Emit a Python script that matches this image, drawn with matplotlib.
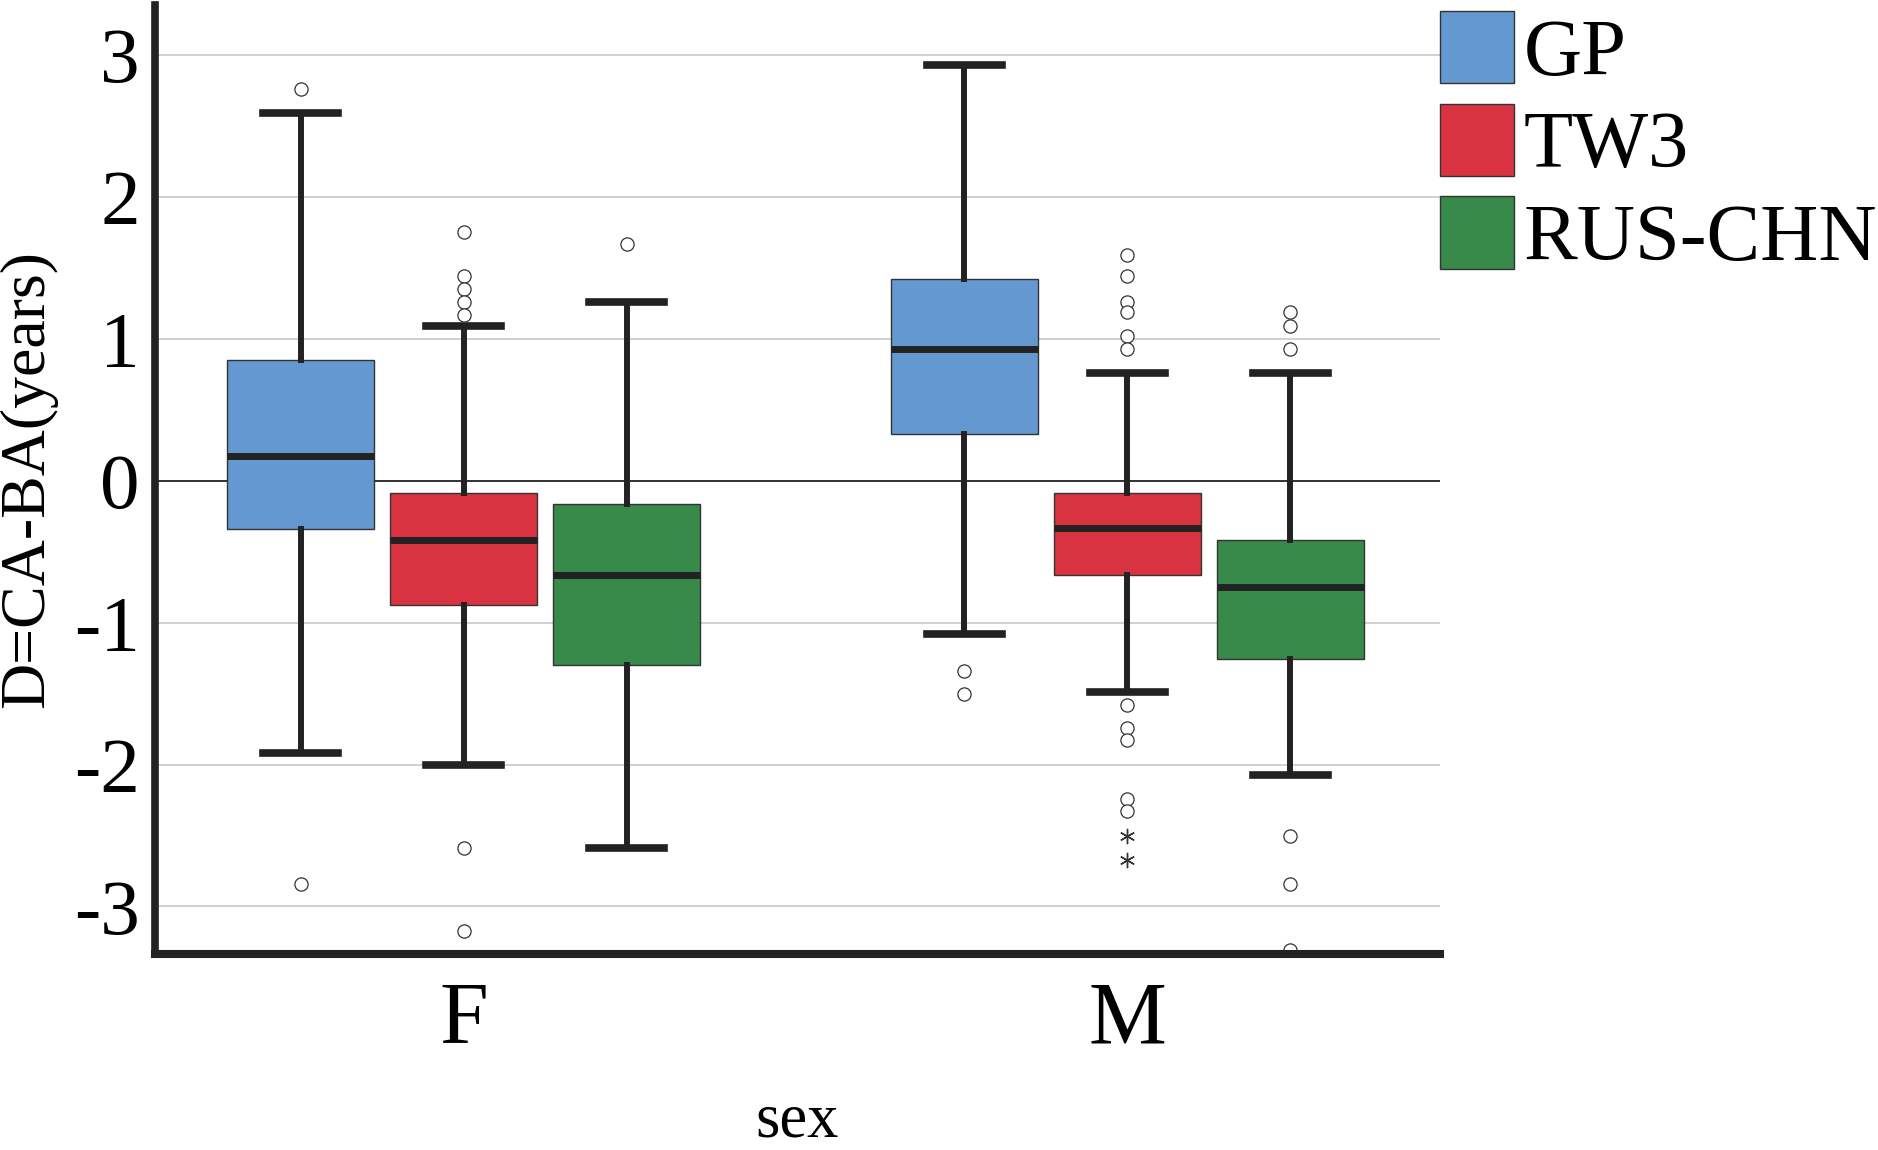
import numpy as np
import matplotlib.pyplot as plt
from matplotlib.patches import Patch

plt.rcParams['font.family'] = ['Liberation Serif', 'DejaVu Serif']

# data (years)
groups = ['F', 'M']
methods = ['GP', 'TW3', 'RUS-CHN']
colors = ['#6498d0', '#d93240', '#378a4a']

whislo = [[-1.92, -2.005, -2.585], [-1.08, -1.488, -2.076]]
q1 = [[-0.34, -0.873, -1.296], [0.326, -0.666, -1.256]]
med = [[0.17, -0.42, -0.666], [0.927, -0.334, -0.748]]
q3 = [[0.85, -0.09, -0.167], [1.418, -0.086, -0.415]]
whishi = [[2.59, 1.09, 1.256], [2.93, 0.757, 0.757]]
fliers = [
    [[2.76, -2.84],
     [1.75, 1.44, 1.35, 1.26, 1.17, -2.585, -3.17],
     [1.67]],
    [[-1.34, -1.50],
     [1.59, 1.44, 1.26, 1.19, 1.02, 0.93, -1.58, -1.74, -1.83, -2.24, -2.33],
     [1.19, 1.09, 0.93, -2.50, -2.84, -3.31]],
]
extremes_M_TW3 = [-2.50, -2.67]

yticks = [-3, -2, -1, 0, 1, 2, 3]
ytick_labels = ['-3', '-2', '-1', '0', '1', '2', '3']

offset = 0.2456
box_w = 0.2215

fig = plt.figure(figsize=(18.78, 11.5), dpi=100)
ax = fig.add_axes([0.0825, 0.1704, 0.6842, 0.8252])

for y in [-3, -2, -1, 1, 2, 3]:
    ax.axhline(y, color='#c4c4c4', lw=1.1, zorder=0)
ax.axhline(0, color='#222222', lw=1.3, zorder=0.5)

for gi in range(len(groups)):
    for mi in range(len(methods)):
        stats = [dict(med=med[gi][mi], q1=q1[gi][mi], q3=q3[gi][mi],
                      whislo=whislo[gi][mi], whishi=whishi[gi][mi],
                      fliers=fliers[gi][mi])]
        pos = gi + (mi - 1) * offset
        ax.bxp(stats, positions=[pos], widths=box_w, capwidths=0.113,
               patch_artist=True, manage_ticks=False,
               boxprops=dict(facecolor=colors[mi], edgecolor='#333333', lw=1.0),
               medianprops=dict(color='#222222', lw=5),
               whiskerprops=dict(color='#222222', lw=4.3),
               capprops=dict(color='#222222', lw=5.5),
               flierprops=dict(marker='o', markersize=9.5, markerfacecolor='white',
                               markeredgecolor='#333333', markeredgewidth=0.9))

ax.plot([1] * len(extremes_M_TW3), extremes_M_TW3, ls='none', marker=(6, 2, 0),
        markersize=11, color='#333333', markeredgewidth=1.0)

ax.set_xlim(-0.4656, 1.4708)
ax.set_ylim(-3.335, 3.35)
ax.set_xticks([0, 1], groups)
ax.set_yticks(yticks, ytick_labels)
ax.tick_params(axis='x', length=0, pad=19, labelsize=63)
ax.tick_params(axis='y', length=0, pad=11, labelsize=57)

for s in ['top', 'right']:
    ax.spines[s].set_visible(False)
ax.spines['left'].set_linewidth(5.5)
ax.spines['bottom'].set_linewidth(5.8)
ax.spines['left'].set_color('#222222')
ax.spines['bottom'].set_color('#222222')
ax.spines['left'].set_zorder(5)
ax.spines['bottom'].set_zorder(5)

ax.set_xlabel('sex', fontsize=45)
ax.xaxis.set_label_coords(0.5, -0.1455)
ax.set_ylabel('D=CA-BA(years)', fontsize=46)
ax.yaxis.set_label_coords(-0.0763, 0.5)

handles = [Patch(facecolor=c, edgecolor='#333333', lw=1.0) for c in colors]
fig.legend(handles, methods, loc='upper left', bbox_to_anchor=(1440 / 1878, 1 - 11 / 1150),
           frameon=False, fontsize=58, handlelength=0.92, handleheight=1.0,
           handletextpad=0.12, labelspacing=0.15, borderpad=0, borderaxespad=0)

fig.savefig('out.png', dpi=100)
